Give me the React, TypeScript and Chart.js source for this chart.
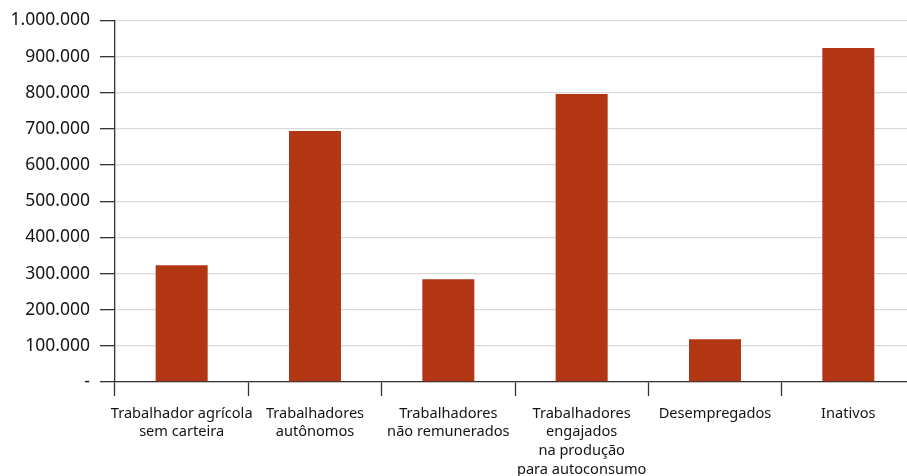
import React, { useEffect, useRef } from "react";
import { Chart, registerables } from "chart.js";

Chart.register(...registerables);

// Categories (multi-line labels) and population counts
const categories: string[][] = [
  ["Trabalhador agrícola", "sem carteira"],
  ["Trabalhadores", "autônomos"],
  ["Trabalhadores", "não remunerados"],
  ["Trabalhadores", "engajados", "na produção", "para autoconsumo"],
  ["Desempregados"],
  ["Inativos"],
];
const values: number[] = [323000, 694000, 284000, 797000, 118000, 924000];

const yMax = 1000000;
const yStep = 100000;

const BAR_COLOR = "#B23614";
const AXIS_COLOR = "#333333";
const GRID_COLOR = "#d9d9d9";
const TEXT_COLOR = "#141414";
const FONT = "'Noto Sans', 'Open Sans', sans-serif";

// Brazilian thousands formatting, zero shown as a dash
function formatTick(v: number): string {
  if (v === 0) return "-";
  return String(Math.round(v)).replace(/\B(?=(\d{3})+(?!\d))/g, ".");
}

export default function App() {
  const canvasRef = useRef<HTMLCanvasElement | null>(null);

  useEffect(() => {
    const canvas = canvasRef.current;
    if (!canvas) return;
    const chart = new Chart(canvas, {
      type: "bar",
      data: {
        labels: categories,
        datasets: [
          {
            data: values,
            backgroundColor: BAR_COLOR,
            borderWidth: 0,
            barPercentage: 0.39,
            categoryPercentage: 1,
          },
        ],
      },
      options: {
        responsive: false,
        animation: false,
        layout: { padding: { top: 20, left: 0, right: 0, bottom: 0 } },
        plugins: {
          legend: { display: false },
          tooltip: { enabled: false },
        },
        scales: {
          x: {
            grid: {
              display: true,
              offset: true,
              drawOnChartArea: false,
              drawTicks: true,
              tickLength: 14,
              tickColor: AXIS_COLOR,
              tickWidth: 1.3,
            },
            border: { display: true, color: AXIS_COLOR, width: 1.3 },
            ticks: {
              autoSkip: false,
              maxRotation: 0,
              minRotation: 0,
              padding: 8,
              color: TEXT_COLOR,
              font: { family: FONT, size: 14.6, lineHeight: 1.28 },
            },
            afterFit: (scale: any) => {
              scale.height = 94;
            },
          },
          y: {
            min: 0,
            max: yMax,
            ticks: {
              stepSize: yStep,
              padding: 10,
              color: TEXT_COLOR,
              font: { family: FONT, size: 17.5 },
              callback: (v: any) => formatTick(Number(v)),
            },
            grid: {
              color: GRID_COLOR,
              lineWidth: 1.3,
              drawTicks: true,
              tickLength: 15,
              tickColor: AXIS_COLOR,
              tickWidth: 1.3,
            },
            border: { display: true, color: AXIS_COLOR, width: 1.3 },
            afterFit: (scale: any) => {
              scale.width = 115;
            },
          },
        },
      },
    });
    return () => chart.destroy();
  }, []);

  return (
    <div
      style={{
        position: "fixed",
        left: 0,
        top: 0,
        width: 907,
        height: 476,
        overflow: "hidden",
        background: "#ffffff",
      }}
    >
      <canvas ref={canvasRef} width={915} height={476} style={{ display: "block" }} />
    </div>
  );
}
